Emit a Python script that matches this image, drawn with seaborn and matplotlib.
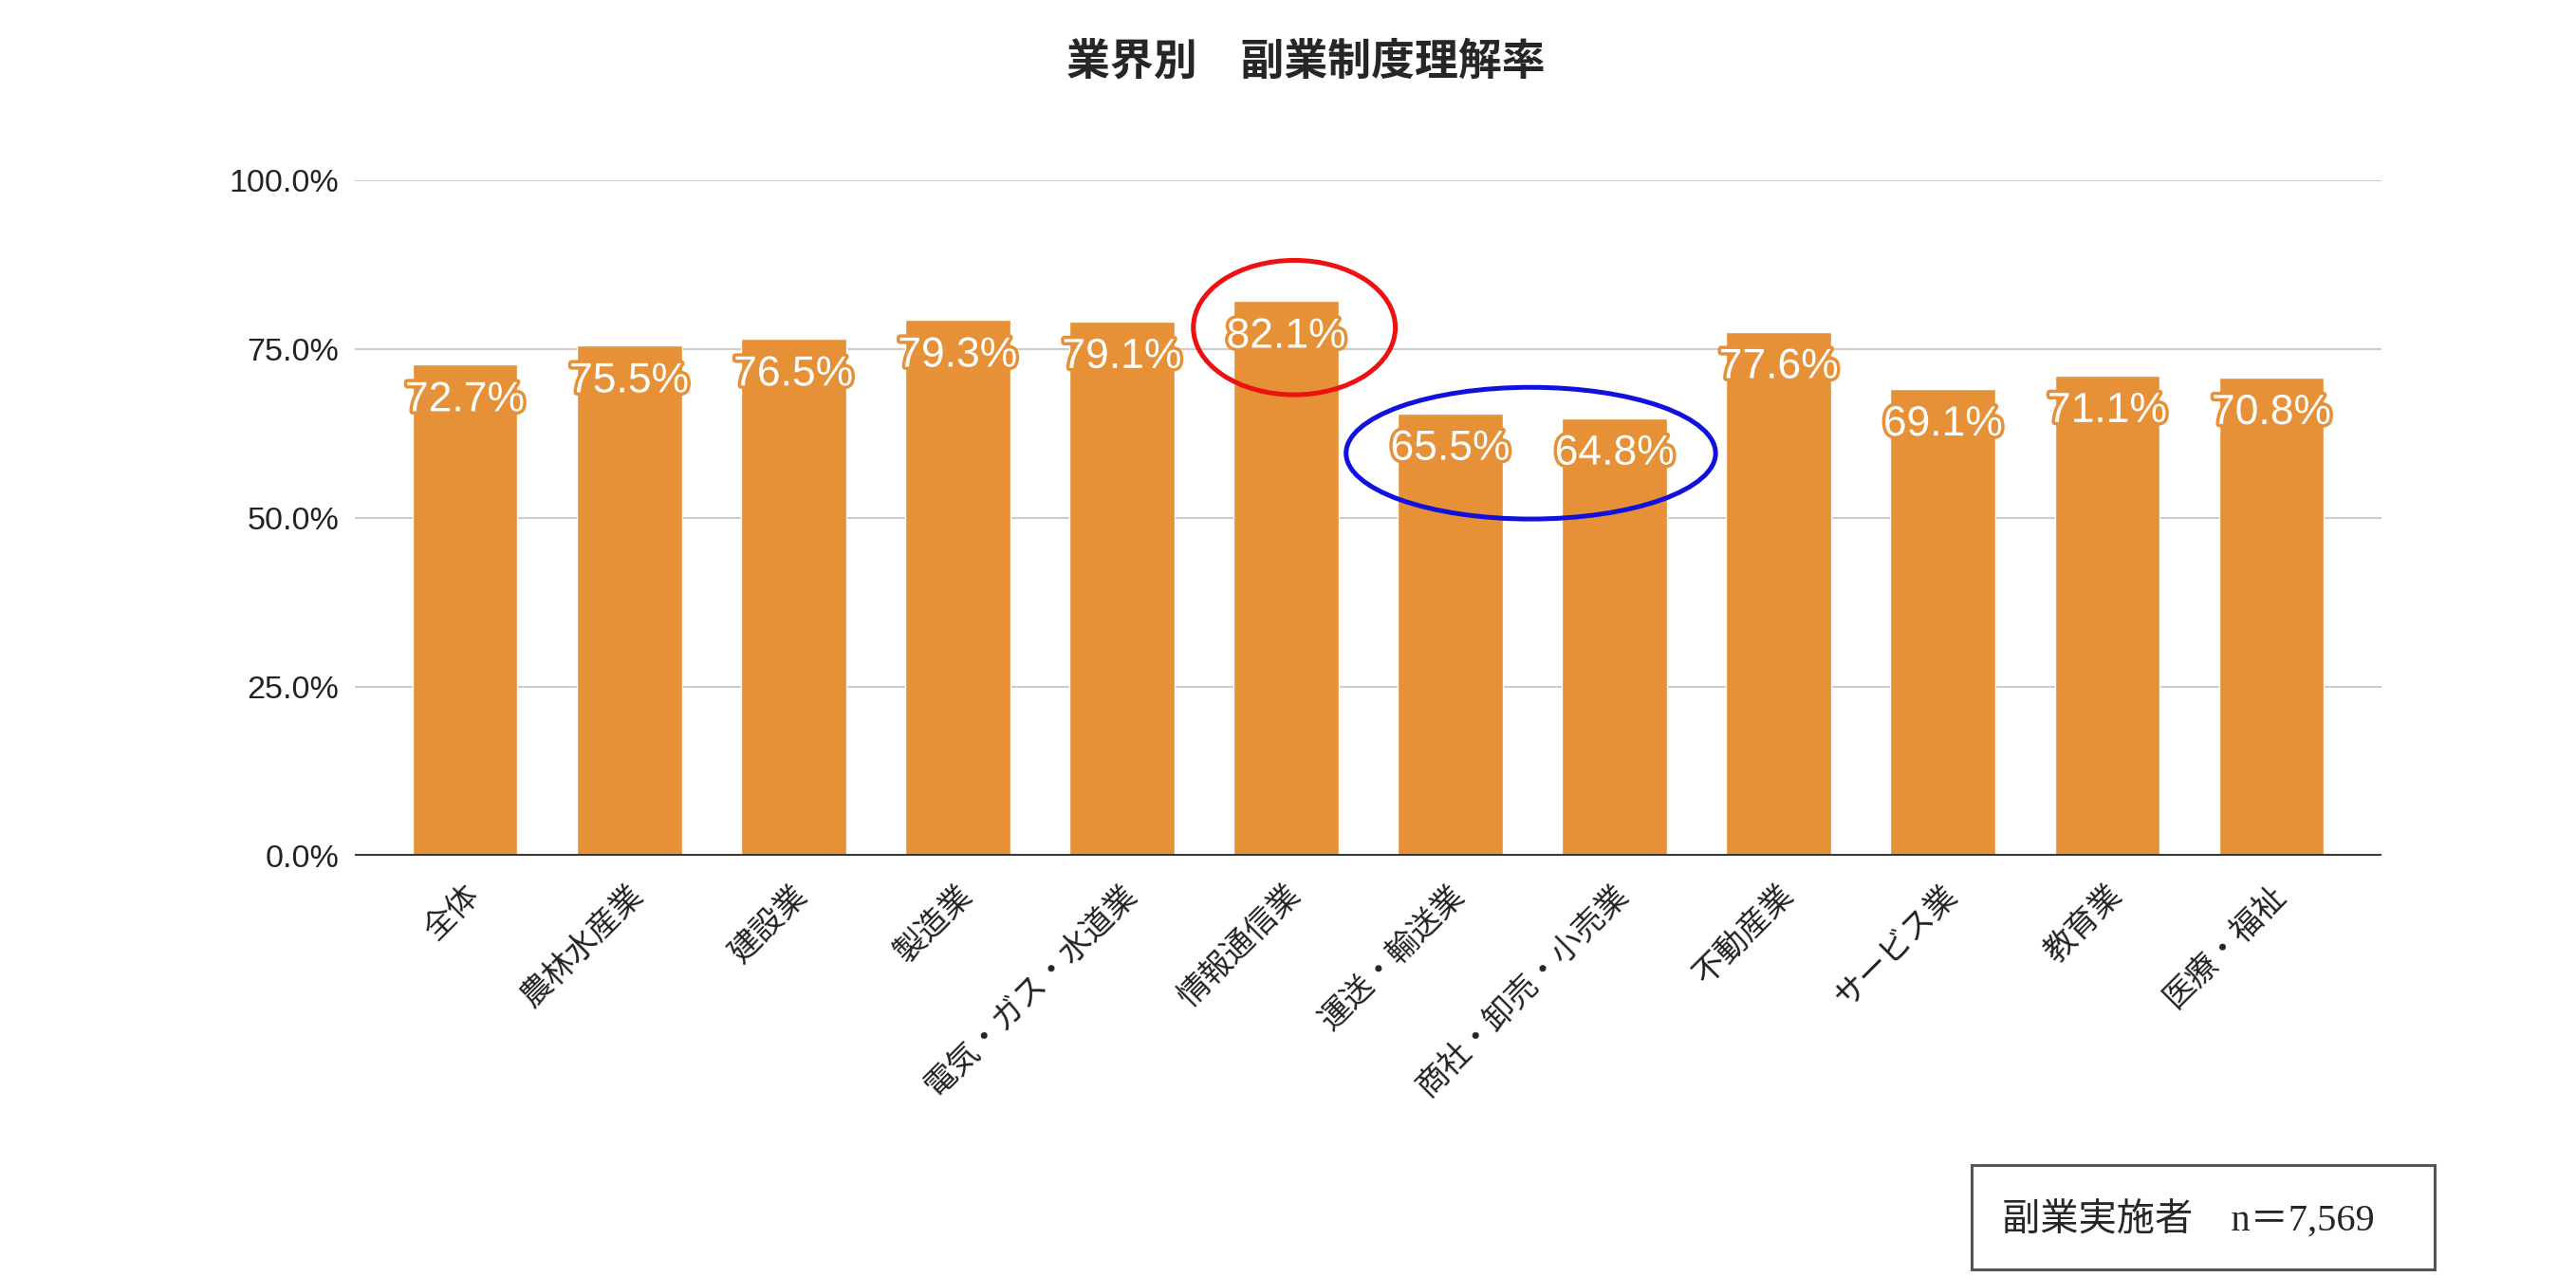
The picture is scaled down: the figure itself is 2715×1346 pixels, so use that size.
import matplotlib
matplotlib.use("Agg")
import matplotlib.pyplot as plt
import matplotlib.patheffects as pe
import matplotlib.transforms as mtransforms
from matplotlib.patches import Ellipse, Rectangle
from matplotlib.ticker import FuncFormatter, MultipleLocator
import seaborn as sns

# Data
industries = ["全体", "農林水産業", "建設業", "製造業", "電気・ガス・水道業", "情報通信業",
              "運送・輸送業", "商社・卸売・小売業", "不動産業", "サービス業", "教育業", "医療・福祉"]
understanding_rate = [72.7, 75.5, 76.5, 79.3, 79.1, 82.1, 65.5, 64.8, 77.6, 69.1, 71.1, 70.8]

title_text = "業界別　副業制度理解率"
note_text = "副業実施者　n＝7,569"

# highlighted categories
high_idx = [5]
low_idx = [6, 7]

BAR_COLOR = "#E69138"


def main():
    sns.set_theme(style="white")
    plt.rcParams["font.family"] = ["Liberation Sans", "Noto Sans CJK JP"]

    fig = plt.figure(figsize=(27.15, 13.46), dpi=100)
    ax = fig.add_axes([0.1378, 0.3299, 0.7867, 0.5289])

    sns.barplot(x=industries, y=understanding_rate, color=BAR_COLOR, saturation=1,
                width=0.64, ax=ax, zorder=3)

    ax.set_ylim(0, 100)
    ax.set_xlim(-0.67, len(industries) - 0.33)
    ax.yaxis.set_major_locator(MultipleLocator(25))
    ax.yaxis.set_major_formatter(FuncFormatter(lambda v, p: f"{v:.1f}%"))
    ax.grid(axis="y", color="#cccccc", linewidth=1.5, zorder=0)
    ax.axhline(0, color="#333333", linewidth=2.8, zorder=4)
    for s in ax.spines.values():
        s.set_visible(False)
    ax.set_xlabel("")
    ax.set_ylabel("")
    ax.tick_params(axis="y", labelsize=24.5, colors="#222222", length=0, pad=12)
    ax.tick_params(axis="x", length=0, pad=26)
    shift = mtransforms.ScaledTranslation(0.10, 0, fig.dpi_scale_trans)
    for lab in ax.get_xticklabels():
        lab.set_rotation(45)
        lab.set_ha("right")
        lab.set_va("center")
        lab.set_rotation_mode("anchor")
        lab.set_fontsize(24)
        lab.set_family(["Noto Sans CJK JP", "DejaVu Sans"])
        lab.set_color("#222222")
        lab.set_transform(lab.get_transform() + shift)

    # value labels inside bar tops
    for i, v in enumerate(understanding_rate):
        ax.annotate(f"{v:.1f}%", (i, v), xytext=(0, -27), textcoords="offset points",
                    ha="center", va="center", fontsize=32, color="white", zorder=5,
                    path_effects=[pe.withStroke(linewidth=5, foreground=BAR_COLOR)])

    # highlight circles
    hx = sum(high_idx) / len(high_idx) + 0.05
    hy = max(understanding_rate[i] for i in high_idx) - 3.9
    ax.add_patch(Ellipse((hx, hy), 1.23, 19.9, fill=False, edgecolor="#EE1111",
                         linewidth=3.6, zorder=6, clip_on=False))
    lx = sum(low_idx) / len(low_idx) - 0.01
    ly = sum(understanding_rate[i] for i in low_idx) / len(low_idx) - 5.55
    ax.add_patch(Ellipse((lx, ly), 2.25, 19.5, fill=False, edgecolor="#1111DD",
                         linewidth=3.6, zorder=6, clip_on=False))

    fig.text(0.507, 0.951, title_text, ha="center", va="center", fontsize=33,
             fontweight="bold", family=["Noto Sans CJK JP", "DejaVu Sans"])

    # sample size box
    fig.add_artist(Rectangle((0.7654, 0.0060), 0.1797, 0.0817, transform=fig.transFigure,
                             fill=False, edgecolor="#555555", linewidth=2.2))
    fig.text(0.777, 0.0445, note_text, ha="left", va="center", fontsize=29,
             family=["Liberation Serif", "Noto Sans CJK JP"])

    fig.savefig("out.png", dpi=100, facecolor="white")
    plt.close(fig)


if __name__ == "__main__":
    main()
